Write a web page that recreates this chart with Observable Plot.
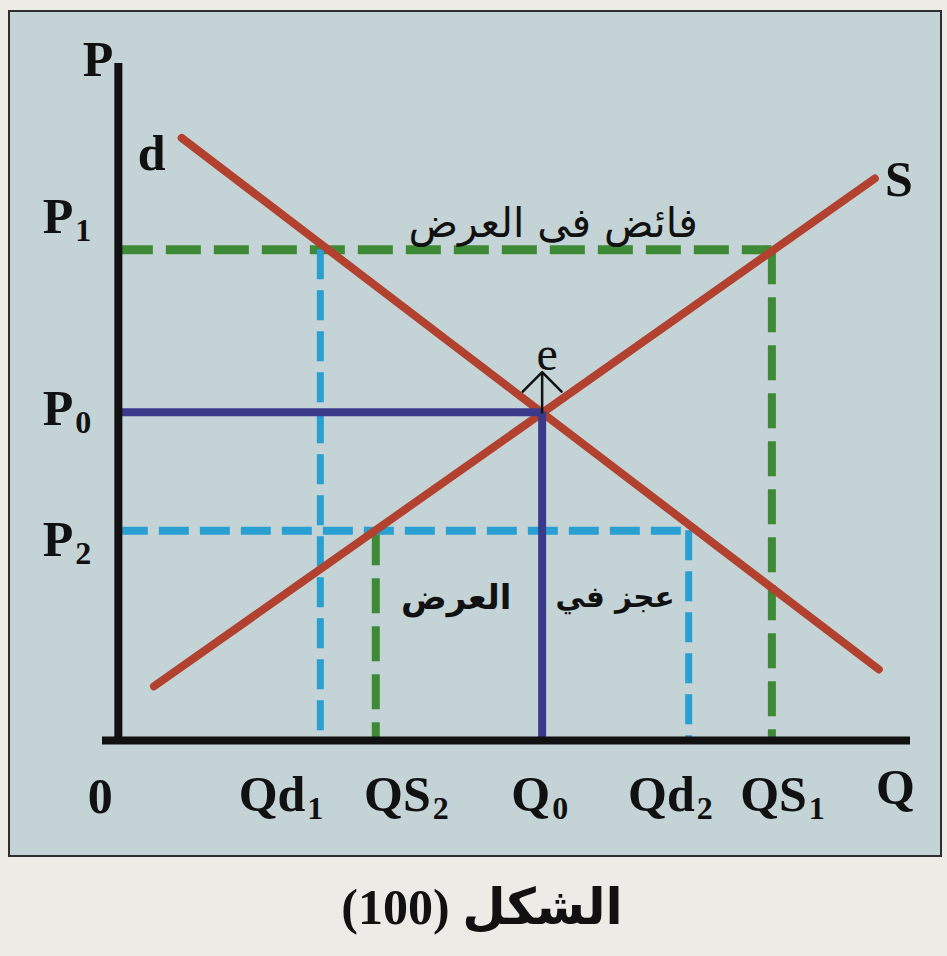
<!DOCTYPE html>
<html><head><meta charset="utf-8">
<script src="https://cdn.jsdelivr.net/npm/d3@7"></script>
<script src="https://cdn.jsdelivr.net/npm/@observablehq/plot@0.6"></script>
<style>
html,body{margin:0;padding:0;background:#ecebe6;width:947px;height:956px;overflow:hidden}
#caption{font-family:"Liberation Serif","DejaVu Sans",serif;font-weight:bold;font-size:50px;text-align:center;padding-left:17px;height:99px;line-height:100px;color:#111}
</style></head><body>
<div id="chart"></div>
<div id="caption" dir="rtl"></div>
<script>
// ---- data ----
const qNames = ["Qd1", "QS2", "Q0", "Qd2", "QS1"];
const qValues = [25.5, 32.5, 53.5, 72, 82.5];
const pNames = ["P1", "P0", "P2"];
const pValues = [72.5, 48.5, 31];
const demandQ = [8, 96];
const demandP = [89, 10.5];
const supplyQ = [4.5, 95.5];
const supplyP = [8, 83];
const axisNames = ["P", "Q", "0"];
const curveNames = ["d", "S", "e"];
const arabicLabels = ["فائض فى العرض", "العرض", "عجز في"];
const captionText = "الشكل (100)";

// ---- build ----
const [Qd1, QS2, Q0, Qd2, QS1] = qValues;
const [P1, P0, P2] = pValues;
const demand = demandQ.map((q, i) => ({q, p: demandP[i]}));
const supply = supplyQ.map((q, i) => ({q, p: supplyP[i]}));

const RED = "#b2412f", GREEN = "#3e8a36", BLUE = "#2a9fd2", PURPLE = "#3b398c", INK = "#111";
const SERIF = "Liberation Serif, Times New Roman, serif";
const ARABIC = "DejaVu Sans, sans-serif";

const qDx = [-15, 55, 8, 6, 35];
const pDy = [-17, 13, 25];

const labelMarks = [];
qNames.forEach((name, i) => {
  const d = [{q: qValues[i], p: 0}];
  labelMarks.push(Plot.text(d, {x: "q", y: "p", text: () => name.slice(0, -1), textAnchor: "end", lineAnchor: "bottom", dx: qDx[i], dy: 70, fontFamily: SERIF, fontWeight: "bold", fontSize: 50, fill: INK}));
  labelMarks.push(Plot.text(d, {x: "q", y: "p", text: () => name.slice(-1), textAnchor: "start", lineAnchor: "bottom", dx: qDx[i] + 2, dy: 78, fontFamily: SERIF, fontWeight: "bold", fontSize: 32, fill: INK}));
});
pNames.forEach((name, i) => {
  const d = [{q: 0, p: pValues[i]}];
  labelMarks.push(Plot.text(d, {x: "q", y: "p", text: () => name.slice(0, -1), textAnchor: "end", lineAnchor: "bottom", dx: -45, dy: pDy[i], fontFamily: SERIF, fontWeight: "bold", fontSize: 50, fill: INK}));
  labelMarks.push(Plot.text(d, {x: "q", y: "p", text: () => name.slice(-1), textAnchor: "start", lineAnchor: "bottom", dx: -43, dy: pDy[i] + 8, fontFamily: SERIF, fontWeight: "bold", fontSize: 32, fill: INK}));
});

const chart = Plot.plot({
  width: 930,
  height: 843,
  margin: 0,
  style: "background:#c4d3d5;border:2px solid #2e2e2e;display:block;margin:10px 0 0 8px;overflow:visible",
  x: {domain: [-2, 100], range: [92, 900], axis: null},
  y: {domain: [0, 100], range: [728, 51], axis: null},
  marks: [
    // green dashed: surplus at P1
    Plot.ruleY([P1], {x1: 0, x2: QS1, stroke: GREEN, strokeWidth: 9, strokeDasharray: "35 13"}),
    Plot.ruleX([QS1], {y1: P1, y2: 0, stroke: GREEN, strokeWidth: 8, strokeDasharray: "35 13"}),
    Plot.ruleX([QS2], {y1: P2, y2: 0, stroke: GREEN, strokeWidth: 8, strokeDasharray: "35 13"}),
    // blue dashed: shortage at P2
    Plot.ruleY([P2], {x1: 0, x2: Qd2, stroke: BLUE, strokeWidth: 8, strokeDasharray: "30 11"}),
    Plot.ruleX([Qd1], {y1: P1, y2: 0, stroke: BLUE, strokeWidth: 7, strokeDasharray: "30 11"}),
    Plot.ruleX([Qd2], {y1: P2, y2: 0, stroke: BLUE, strokeWidth: 7, strokeDasharray: "30 11"}),
    // demand & supply
    Plot.line(demand, {x: "q", y: "p", stroke: RED, strokeWidth: 8}),
    Plot.line(supply, {x: "q", y: "p", stroke: RED, strokeWidth: 8}),
    // equilibrium
    Plot.ruleY([P0], {x1: 0, x2: Q0, stroke: PURPLE, strokeWidth: 8}),
    Plot.ruleX([Q0], {y1: P0, y2: 0, stroke: PURPLE, strokeWidth: 8}),
    // axes
    Plot.ruleX([0], {y1: 0, y2: 100, stroke: INK, strokeWidth: 8}),
    Plot.ruleY([0], {x1: -2, x2: 100, stroke: INK, strokeWidth: 8}),
    // arrow at e
    Plot.vector([{q: Q0, p: P0}], {x: "q", y: "p", length: 40, rotate: 0, anchor: "start", r: 8.5, stroke: INK, strokeWidth: 2.5}),
    // axis names
    Plot.text([{q: 0, p: 100}], {x: "q", y: "p", text: () => axisNames[0], textAnchor: "end", lineAnchor: "bottom", dx: -5, dy: 12, fontFamily: SERIF, fontWeight: "bold", fontSize: 50, fill: INK}),
    Plot.text([{q: 100, p: 0}], {x: "q", y: "p", text: () => axisNames[1], textAnchor: "middle", lineAnchor: "bottom", dx: -15, dy: 63, fontFamily: SERIF, fontWeight: "bold", fontSize: 50, fill: INK}),
    Plot.text([{q: 0, p: 0}], {x: "q", y: "p", text: () => axisNames[2], textAnchor: "middle", lineAnchor: "bottom", dx: -18, dy: 72, fontFamily: SERIF, fontWeight: "bold", fontSize: 50, fill: INK}),
    // curve names
    Plot.text([demand[0]], {x: "q", y: "p", text: () => curveNames[0], textAnchor: "middle", lineAnchor: "bottom", dx: -30, dy: 32, fontFamily: SERIF, fontWeight: "bold", fontSize: 50, fill: INK}),
    Plot.text([supply[1]], {x: "q", y: "p", text: () => curveNames[1], textAnchor: "middle", lineAnchor: "bottom", dx: 24, dy: 17, fontFamily: SERIF, fontWeight: "bold", fontSize: 50, fill: INK}),
    Plot.text([{q: Q0, p: P0}], {x: "q", y: "p", text: () => curveNames[2], textAnchor: "middle", lineAnchor: "bottom", dx: 5, dy: -42, fontFamily: SERIF, fontSize: 48, fill: INK}),
    // Arabic labels
    Plot.text([{q: Q0, p: P1}], {x: "q", y: "p", text: () => arabicLabels[0], textAnchor: "middle", dx: 11, dy: -26, fontFamily: ARABIC, fontSize: 41, fill: INK}),
    Plot.text([{q: Q0, p: P2}], {x: "q", y: "p", text: () => arabicLabels[1], textAnchor: "middle", dx: -86, dy: 67, fontFamily: ARABIC, fontWeight: "bold", fontSize: 34, fill: INK}),
    Plot.text([{q: Q0, p: P2}], {x: "q", y: "p", text: () => arabicLabels[2], textAnchor: "middle", dx: 73, dy: 67, fontFamily: ARABIC, fontWeight: "bold", fontSize: 29.5, fill: INK}),
    ...labelMarks
  ]
});
document.getElementById("chart").appendChild(chart);
document.getElementById("caption").textContent = captionText;
</script>
</body></html>
